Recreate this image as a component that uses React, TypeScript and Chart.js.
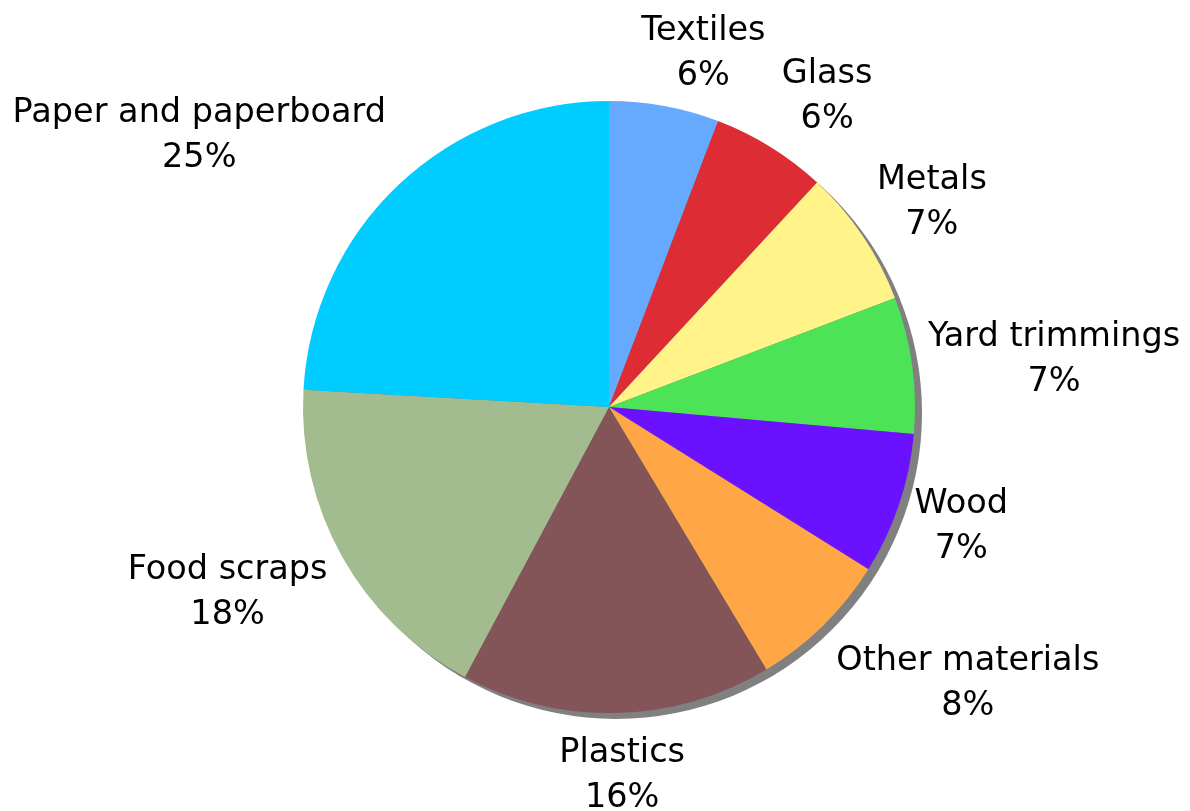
import React, { useEffect, useRef } from "react";
import { Chart, registerables } from "chart.js";

Chart.register(...registerables);

const categories = [
  "Textiles",
  "Glass",
  "Metals",
  "Yard trimmings",
  "Wood",
  "Other materials",
  "Plastics",
  "Food scraps",
  "Paper and paperboard",
];
const shares = [5.8, 6.1, 7.3, 7.2, 7.5, 7.5, 16.4, 18.1, 24.1];
const shareLabels = ["6%", "6%", "7%", "7%", "7%", "8%", "16%", "18%", "25%"];
const sliceColors = [
  "#66AAFF",
  "#DD2C33",
  "#FFF38A",
  "#4DE356",
  "#6A11FF",
  "#FFA647",
  "#845558",
  "#A2BC8F",
  "#00CCFF",
];

const FONT = "33.5px 'DejaVu Sans', Verdana, sans-serif";
const LINE_H = 45;

const clamp = (v: number) => Math.max(-1, Math.min(1, v));

const shadowPlugin = {
  id: "pieShadow",
  beforeDatasetsDraw(chart: any) {
    const meta = chart.getDatasetMeta(0);
    const arc = meta.data[0];
    if (!arc) return;
    const { x, y, outerRadius } = arc.getProps(["x", "y", "outerRadius"], true);
    const ctx = chart.ctx;
    ctx.save();
    ctx.fillStyle = "#808080";
    ctx.beginPath();
    ctx.arc(x + 7, y + 6, outerRadius, 0, Math.PI * 2);
    ctx.fill();
    ctx.restore();
  },
};

const labelPlugin = {
  id: "outerLabels",
  afterDatasetsDraw(chart: any) {
    const meta = chart.getDatasetMeta(0);
    const ctx = chart.ctx;
    ctx.save();
    ctx.font = FONT;
    ctx.fillStyle = "#000000";
    ctx.textAlign = "center";
    ctx.textBaseline = "middle";
    meta.data.forEach((arc: any, i: number) => {
      const { x, y, startAngle, endAngle, outerRadius } = arc.getProps(
        ["x", "y", "startAngle", "endAngle", "outerRadius"],
        true
      );
      const mid = (startAngle + endAngle) / 2;
      const c = Math.cos(mid);
      const s = Math.sin(mid);
      const lines = [categories[i], shareLabels[i]];
      const w = Math.max(...lines.map((t) => ctx.measureText(t).width));
      const h = LINE_H * lines.length;
      const px = x + (outerRadius + 10) * c;
      const py = y + (outerRadius + 10) * s;
      const fx = clamp(3 * c);
      const fy = clamp(s / Math.max(Math.abs(c), 0.001));
      const cx = px + fx * (w / 2 + 6);
      const cy = py + fy * (h / 2) + 3 + (s > 0 ? 5 * s : 0);
      lines.forEach((t, k) => {
        ctx.fillText(t, cx, cy - h / 2 + LINE_H * (k + 0.5));
      });
    });
    ctx.restore();
  },
};

export default function App() {
  const ref = useRef<HTMLCanvasElement>(null);
  useEffect(() => {
    document.body.style.margin = "0";
    const chart = new Chart(ref.current as HTMLCanvasElement, {
      type: "pie",
      data: {
        labels: categories,
        datasets: [
          {
            data: shares,
            backgroundColor: sliceColors,
            borderWidth: 0,
          },
        ],
      },
      options: {
        responsive: false,
        animation: false,
        layout: { padding: { top: 101, bottom: 98, left: 303, right: 275 } },
        plugins: {
          legend: { display: false },
          tooltip: { enabled: false },
        },
      },
      plugins: [shadowPlugin, labelPlugin],
    });
    return () => chart.destroy();
  }, []);
  return (
    <div style={{ position: "absolute", left: 0, top: 0, width: 1190, height: 811, background: "#fff" }}>
      <canvas ref={ref} width={1190} height={811} />
    </div>
  );
}
